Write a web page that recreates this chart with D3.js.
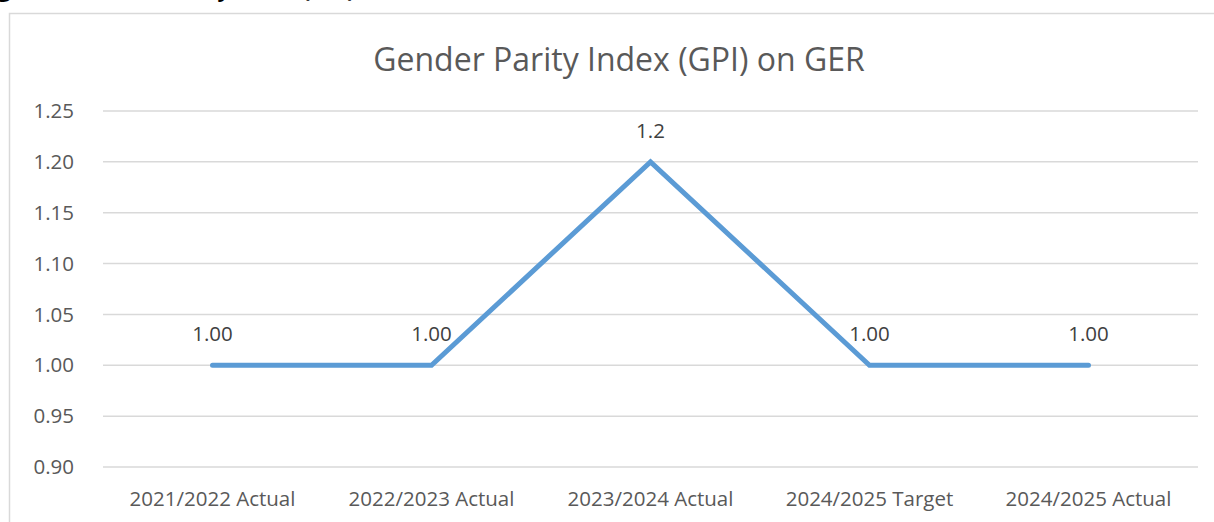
<!DOCTYPE html>
<html>
<head>
<meta charset="utf-8">
<script src="https://cdn.jsdelivr.net/npm/d3@7"></script>
<style>
  body { margin: 0; background: #fff; overflow: hidden; }
  text { font-family: "Open Sans", "Noto Sans", sans-serif; }
</style>
</head>
<body>
<div id="chart"></div>
<script>
var categories = ["2021/2022 Actual", "2022/2023 Actual", "2023/2024 Actual", "2024/2025 Target", "2024/2025 Actual"];
var gpiValues = [1.00, 1.00, 1.20, 1.00, 1.00];
var pointLabels = ["1.00", "1.00", "1.2", "1.00", "1.00"];
var yTicks = [0.90, 0.95, 1.00, 1.05, 1.10, 1.15, 1.20, 1.25];

var svgWidth = 1214, svgHeight = 522;
var margin = { top: 111, right: 16, bottom: 55, left: 103 };

var svg = d3.select("#chart").append("svg")
  .attr("width", svgWidth).attr("height", svgHeight);

// caption above the chart box, cut off by the page edge
svg.append("text")
  .attr("x", -2).attr("y", -3)
  .attr("font-size", 22).attr("font-weight", "bold").attr("fill", "#000")
  .text("gure 3: Gender Parity Index (GPI) on GER");

// chart frame
svg.append("rect")
  .attr("x", 9.5).attr("y", 13.5)
  .attr("width", 1220).attr("height", 530)
  .attr("fill", "none").attr("stroke", "#d9d9d9").attr("stroke-width", 1.5);

svg.append("text")
  .attr("x", 619).attr("y", 71)
  .attr("text-anchor", "middle")
  .attr("font-size", 32).attr("fill", "#595959")
  .text("Gender Parity Index (GPI) on GER");

var width = 1198 - margin.left;
var height = 467 - margin.top;

var g = svg.append("g").attr("transform", `translate(${margin.left},${margin.top})`);

var x = d3.scaleBand().domain(categories).range([0, width]);
var y = d3.scaleLinear().domain([0.90, 1.25]).range([height, 0]);

// gridlines
g.selectAll(".grid").data(yTicks).enter().append("line")
  .attr("x1", 0).attr("x2", width)
  .attr("y1", d => y(d)).attr("y2", d => y(d))
  .attr("stroke", "#d9d9d9").attr("stroke-width", 1.5);

// y tick labels
g.selectAll(".ylab").data(yTicks).enter().append("text")
  .attr("x", -29).attr("y", d => y(d))
  .attr("dy", "0.35em").attr("text-anchor", "end")
  .attr("font-size", 20.5).attr("fill", "#595959")
  .text(d => d.toFixed(2));

// x labels
g.selectAll(".xlab").data(categories).enter().append("text")
  .attr("x", d => x(d) + x.bandwidth() / 2).attr("y", height + 39)
  .attr("text-anchor", "middle")
  .attr("font-size", 20.5).attr("fill", "#595959")
  .text(d => d);

var line = d3.line()
  .x((d, i) => x(categories[i]) + x.bandwidth() / 2)
  .y(d => y(d));

g.append("path").datum(gpiValues)
  .attr("d", line)
  .attr("fill", "none").attr("stroke", "#5b9bd5")
  .attr("stroke-width", 5).attr("stroke-linecap", "round").attr("stroke-linejoin", "miter");

g.selectAll(".plab").data(gpiValues).enter().append("text")
  .attr("x", (d, i) => x(categories[i]) + x.bandwidth() / 2)
  .attr("y", d => y(d) - 24)
  .attr("text-anchor", "middle")
  .attr("font-size", 20.5).attr("fill", "#404040")
  .text((d, i) => pointLabels[i]);
</script>
</body>
</html>
